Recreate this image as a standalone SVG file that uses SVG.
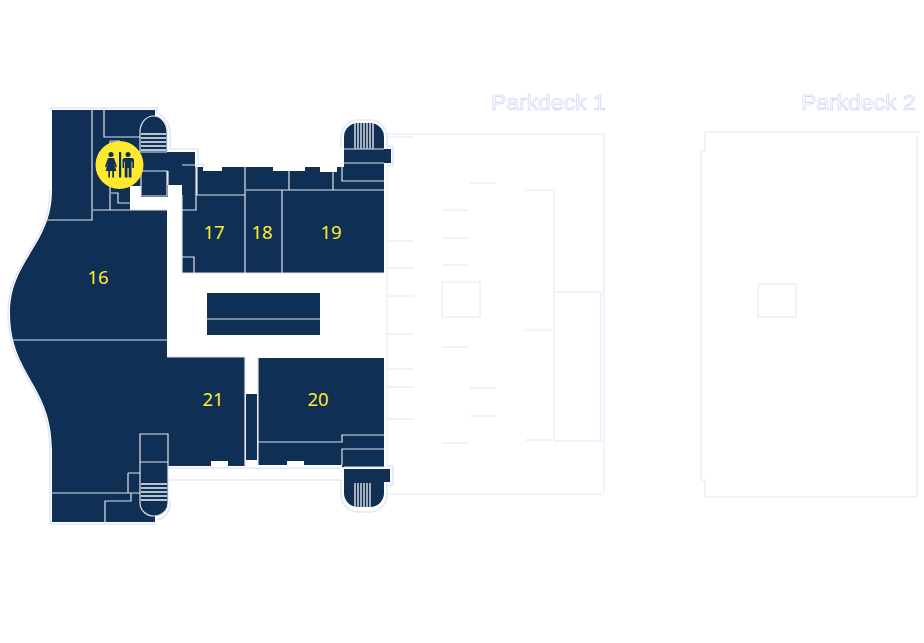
<svg xmlns="http://www.w3.org/2000/svg" width="924" height="643" viewBox="0 0 924 643">
<style>
.n{fill:#0f2f55}
.h{fill:none;stroke:#e3e8f7;stroke-width:1.6}
.w{fill:none;stroke:#dfe3ec;stroke-width:1.2}
.s{stroke:#f2f4f8;stroke-width:1.5;fill:none}
.r{stroke:#c9ced8;stroke-width:1.6;fill:none}
.p{fill:none;stroke:#e1e6f7;stroke-width:1}
.l{fill:#ffe92e;font-family:"Noto Sans","Liberation Sans",sans-serif;font-size:18.500px;text-anchor:middle}
.t{fill:#fff;stroke:#c0cff7;stroke-width:.6;font-family:"Liberation Sans",Arial,sans-serif;font-size:22.900px}
</style>
<rect width="924" height="643" fill="#fff"/>
<g id="parkdeck-1">
<path class="p" d="M387,134H604V493M387,134V490M387,494H602M442,282H480V317H442ZM554,190V441M554,292H601V441H554M387,137H414M387,241H414M387,268H414M387,296H414M387,334H414M387,369H414M387,387H414M387,419H414M442,210H468M442,238H468M442,265H468M442,347H468M442,443H468M470,183H496M470,388H496M470,416H496M525,190H552M525,330H552M525,440H552"/>
<text class="t" x="491" y="110">Parkdeck 1</text>
</g>
<g id="parkdeck-2">
<path class="p" d="M705,132H920M917,135V497H705V480H701V151H705V132M758,284H796V317H758Z"/>
<text class="t" x="801" y="110">Parkdeck 2</text>
</g>
<g id="building">
<path class="h" d="M50,108H157V113C164,116 170,124 170,132V149H198V164H203V168M168,468H344M168,480H342M341,482V495A17,17 0 0 0 358,512H370A17,17 0 0 0 387,495V485H393V466H387M341,149V136A17,17 0 0 1 358,120H370A17,17 0 0 1 387,136V146H393V166H387M50,190C50,245 8,260 8,313C8,375 50,385 50,450V524H155M170,500V505C170,512 165,518 157,520"/>
<path class="n" d="M52,110H155V116A14,16 0 0 1 167,132V152H195V167H182V185H168V197H141V186H130V210H167V357H245V466H228V461H211V466H168V503A14,13 0 0 1 155,516V522H52V450C52,385 10,375 10,313C10,260 52,245 52,190Z"/>
<path class="n" d="M182,167H203V171H222V167H273V171H305V167H320V172H337V167H344V163H384V273H182Z"/>
<path class="n" d="M344,149V137A14,14 0 0 1 358,123H370A14,14 0 0 1 384,137V149H391V163H344Z"/>
<rect class="n" x="207" y="293" width="113" height="42"/>
<path class="n" d="M246,394H257V460H246Z"/>
<path class="n" d="M258,358H384V467H342V465H304V461H287V465H258Z"/>
<path class="n" d="M344,469H390V482H384V493A14,14 0 0 1 370,507H358A14,14 0 0 1 344,493Z"/>
<path class="w" d="M92,110V220H45M104,110V137H140M110,141V210M110,141H120M111,193H118V203H130M93,210H167M141,171H167V196H141ZM168,171V185M140,132A13.500,16 0 0 1 167,132V152M140,132V152H167M182,165H196V210H182M197,167V195M182,195V273H384M197,195H245M245,167V273M246,190H384M282,190V273M289,171V190M333,172V190M342,166V181H384M344,163H384M344,149H384M207,319H320M182,257H194V273M13,340H167M167,357H245V466M258,358V465M258,442H342V435H384M342,465V449H384M344,467H384M140,434H168V503A14,13 0 0 1 140,503ZM140,462H168M128,473H140M128,473V493M52,493H140M131,493V501H105V522"/>
<path class="s" d="M141,134H166M141,138H166M141,142H166M141,146H166M141,150H166M141,484H167M141,488H167M141,492H167M141,496H167M141,500H167"/>
<path class="r" d="M355,123V149M358,123V149M361,123V149M364,123V149M367,123V149M370,123V149M373,123V149M355,483V507M358,483V507M361,483V507M364,483V507M367,483V507M370,483V507"/>
</g>
<g id="room-16"><text class="l" x="98" y="284">16</text></g>
<g id="room-17"><text class="l" x="214" y="239">17</text></g>
<g id="room-18"><text class="l" x="262" y="239">18</text></g>
<g id="room-19"><text class="l" x="331" y="239">19</text></g>
<g id="room-20"><text class="l" x="318" y="406">20</text></g>
<g id="room-21"><text class="l" x="213" y="406">21</text></g>
<g id="restroom">
<circle cx="119.500" cy="165" r="24" fill="#ffe92e"/>
<rect class="n" x="119" y="152" width="2.200" height="25.500"/>
<circle class="n" cx="111" cy="154.500" r="2.500"/>
<path class="n" d="M108,158H114L117,166.500L115.700,167.500L113.600,162.500L116.500,171H114V177.500H112.300V171H110V177.500H108.300V171H105.500L108.400,162.500L106.300,167.500L105,166.500Z"/>
<circle class="n" cx="128" cy="154.500" r="2.500"/>
<path class="n" d="M124,158H132.500L134,159.500V168H132.300V161.500H131.500V177.500H128.700V168H127.500V177.500H124.700V161.500H124V168H122.500V159.500Z"/>
</g>
</svg>
